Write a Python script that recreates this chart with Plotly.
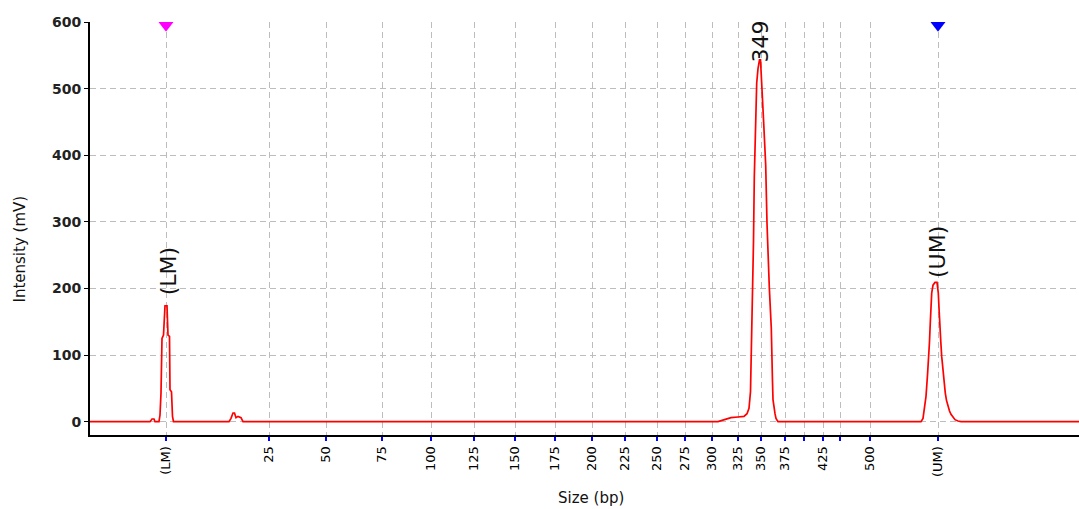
import plotly.graph_objects as go

# Migration position (arbitrary linear units along the run) and intensity (mV)
trace_pos = [0, 60, 62, 64, 65, 69, 70, 71, 72, 73.5, 75, 77, 78, 79.5, 80, 81.5, 82.5, 83.5,
             139, 141, 143, 144.5, 146, 148, 151, 153,
             628, 632, 636, 641, 648, 654, 657, 659, 660.5, 661.5, 662.5, 663.5, 664.3, 665.5,
             666.7, 668, 669.5, 670.5, 671.7, 673.7, 675.7, 677, 679.3, 681.3, 682.5, 683, 685, 686, 688,
             831, 833, 834.5, 836, 837.5, 838.7, 839.5, 840.3, 841, 841.7, 843, 845, 847, 848.3,
             849.2, 849.7, 850.8, 851.7, 853.3, 855.3, 856.5, 858, 859.5, 861, 863, 865, 868, 871, 989]
intensity = [0, 0, 4, 4, 0, 0, 10, 43, 125, 130, 174, 174, 130, 128, 48, 45, 8, 0,
             0, 5, 13, 13, 6, 8, 6, 0,
             0, 2, 4, 6, 7, 8, 12, 20, 45, 110, 180, 270, 367, 450,
             508, 530, 543, 543, 513, 448, 385, 298, 202, 140, 60, 33, 12, 5, 0,
             0, 5, 20, 38, 70, 93, 120, 149, 175, 193, 205, 209, 209, 193,
             165, 143, 120, 98, 68, 43, 32, 23, 16, 11, 6, 3, 1, 0, 0]

# Size ladder ticks
tick_pos = [76, 179, 236, 292, 341, 384, 425, 465, 502, 535, 567, 595, 622, 648, 671, 695,
            714, 733, 750, 780, 848]
tick_text = ["(LM)", "25", "50", "75", "100", "125", "150", "175", "200", "225", "250", "275",
             "300", "325", "350", "375", "", "425", "", "500", "(UM)"]

# Peak labels
peak_labels = ["(LM)", "349", "(UM)"]
peak_pos = [78.5, 670.5, 847.5]
peak_height = [174, 543, 209]

# Marker positions (lower / upper)
marker_pos = [76, 848]
marker_level = [595, 595]
marker_colors = ["#ff00ff", "#0000ff"]

fig = go.Figure()
fig.add_trace(go.Scatter(x=trace_pos, y=intensity, mode="lines",
                         line=dict(color="#ff0000", width=1.7), hoverinfo="skip"))
fig.add_trace(go.Scatter(x=marker_pos, y=marker_level, mode="markers",
                         marker=dict(symbol="triangle-down", size=13, color=marker_colors,
                                     line=dict(width=0)),
                         cliponaxis=False, hoverinfo="skip"))

yshifts = [8, -5, 2]
for lab, px, ph, ys in zip(peak_labels, peak_pos, peak_height, yshifts):
    fig.add_annotation(x=px, y=ph, text=lab, textangle=-90, showarrow=False,
                       xanchor="center", yanchor="bottom", yshift=ys,
                       font=dict(family="DejaVu Sans", size=22, color="#111111"))

fig.add_annotation(xref="paper", yref="paper",
                   x=(591 - 90) / 989, y=-(498 - 435) / 413,
                   xanchor="center", yanchor="middle",
                   text="Size (bp)", showarrow=False,
                   font=dict(family="DejaVu Sans", size=15, color="#111111"))
fig.add_annotation(xref="paper", yref="paper", x=-(90 - 19.5) / 989, y=(435 - 249) / 413,
                   text="Intensity (mV)", textangle=-90, showarrow=False,
                   xanchor="center", yanchor="middle",
                   font=dict(family="DejaVu Sans", size=15, color="#111111"))

fig.update_layout(
    width=1079, height=509,
    margin=dict(l=90, r=0, t=22, b=74),
    paper_bgcolor="white", plot_bgcolor="white",
    showlegend=False, hovermode=False,
    xaxis=dict(range=[0, 989], tickmode="array", tickvals=tick_pos, ticktext=tick_text,
               tickangle=-90, ticks="outside", ticklen=4, tickwidth=2, tickcolor="#0000ff",
               tickfont=dict(family="DejaVu Sans", size=13, color="#000000"),
               showgrid=True, gridcolor="#bdbdbd", griddash="6px,4px", gridwidth=1,
               showline=True, linecolor="#000000", linewidth=2, zeroline=False,
               fixedrange=True),
    yaxis=dict(range=[-20, 600], tickmode="array", tickvals=[0, 100, 200, 300, 400, 500, 600],
               ticks="outside", ticklen=4, tickwidth=1, tickcolor="#000000",
               tickfont=dict(family="DejaVu Sans", size=14, color="#222222", weight="bold"),
               showgrid=True, gridcolor="#bdbdbd", griddash="6px,4px", gridwidth=1,
               showline=True, linecolor="#000000", linewidth=2, zeroline=False,
               fixedrange=True),
)

fig.write_html("out.html", config={"displayModeBar": False},
               post_script="document.body.style.margin='0px';document.body.style.overflow='hidden';")
